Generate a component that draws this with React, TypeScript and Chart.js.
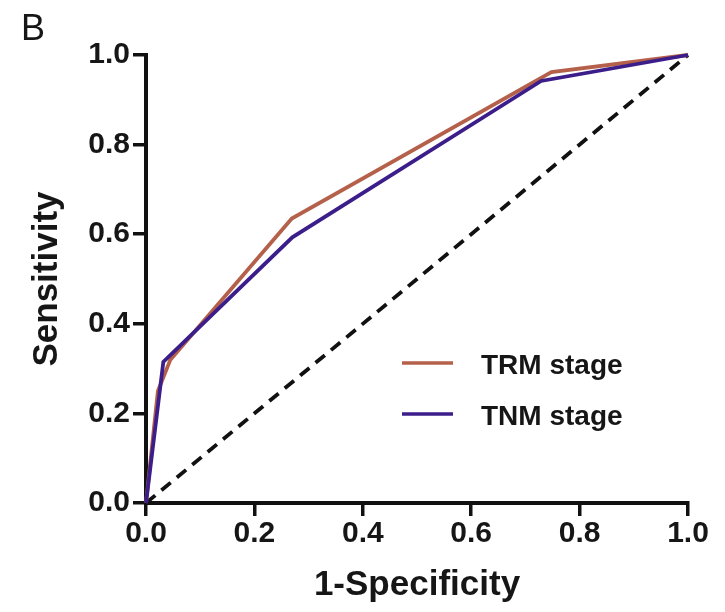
import React, { useEffect, useRef } from "react";
import { Chart, registerables } from "chart.js";

Chart.register(...registerables);

const panelLabel = "B";
const xTitle = "1-Specificity";
const yTitle = "Sensitivity";
const tickValues = [0, 0.2, 0.4, 0.6, 0.8, 1.0];

const trmLabel = "TRM stage";
const trmX = [0, 0.022, 0.045, 0.269, 0.748, 1.0];
const trmY = [0, 0.25, 0.32, 0.635, 0.962, 1.0];

const tnmLabel = "TNM stage";
const tnmX = [0, 0.032, 0.27, 0.729, 1.0];
const tnmY = [0, 0.315, 0.593, 0.942, 1.0];

const refX = [0, 1];
const refY = [0, 1];

const TRM_COLOR = "#B4604A";
const TNM_COLOR = "#3C1E8A";
const TEXT = "#161616";
const FONT = "'Liberation Sans', Arial, sans-serif";

const toPts = (xs: number[], ys: number[]) => xs.map((x, i) => ({ x, y: ys[i] }));

export default function App() {
  const ref = useRef<HTMLCanvasElement | null>(null);
  useEffect(() => {
    if (!ref.current) return;
    const overlay = {
      id: "overlay",
      afterDraw(chart: any) {
        const ctx = chart.ctx;
        ctx.save();
        ctx.fillStyle = TEXT;
        ctx.font = `36px ${FONT}`;
        ctx.textBaseline = "alphabetic";
        ctx.textAlign = "left";
        ctx.fillText(panelLabel, 21, 40);
        const items = [0, 1].map((i) => chart.data.datasets[i]);
        items.forEach((ds: any, i: number) => {
          const yPix = 363 + i * 51;
          ctx.strokeStyle = ds.borderColor;
          ctx.lineWidth = 3.5;
          ctx.beginPath();
          ctx.moveTo(402, yPix);
          ctx.lineTo(453, yPix);
          ctx.stroke();
          ctx.fillStyle = TEXT;
          ctx.font = `bold 28px ${FONT}`;
          ctx.textBaseline = "alphabetic";
          ctx.fillText(ds.label, 481, yPix + 11);
        });
        ctx.restore();
      },
    };
    const common = (title: string, isY: boolean) => ({
      type: "linear" as const,
      min: 0,
      max: 1,
      afterBuildTicks: (s: any) => {
        s.ticks = tickValues.map((v) => ({ value: v }));
      },
      afterFit: (s: any) => {
        if (isY) s.width = 146;
        else s.height = 109;
      },
      ticks: {
        color: TEXT,
        font: { family: FONT, size: 30, weight: "bold" as const },
        padding: isY ? 3 : 0,
        maxRotation: 0,
        autoSkip: false,
        callback: (v: any) => Number(v).toFixed(1),
      },
      grid: {
        drawOnChartArea: false,
        drawTicks: true,
        tickLength: 13,
        lineWidth: 3.5,
        color: "#111",
      },
      border: { display: true, color: "#111", width: 4 },
      title: {
        display: true,
        text: title,
        color: TEXT,
        font: { family: FONT, size: 35, weight: "bold" as const, lineHeight: isY ? 2.7 : 1.5 },
        padding: 0,
      },
    });
    const chart = new Chart(ref.current, {
      type: "scatter",
      data: {
        datasets: [
          {
            label: trmLabel,
            data: toPts(trmX, trmY),
            showLine: true,
            borderColor: TRM_COLOR,
            backgroundColor: TRM_COLOR,
            borderWidth: 3.8,
            pointRadius: 0,
            order: 2,
            clip: false,
          },
          {
            label: tnmLabel,
            data: toPts(tnmX, tnmY),
            showLine: true,
            borderColor: TNM_COLOR,
            backgroundColor: TNM_COLOR,
            borderWidth: 3.8,
            pointRadius: 0,
            order: 1,
            clip: false,
          },
          {
            label: "Reference",
            data: toPts(refX, refY),
            showLine: true,
            borderColor: "#111",
            borderWidth: 3.8,
            borderDash: [12, 8],
            pointRadius: 0,
            order: 3,
            clip: false,
          },
        ] as any,
      },
      options: {
        animation: false,
        responsive: false,
        layout: { padding: { top: 55, right: 37, left: 0, bottom: 0 } },
        plugins: { legend: { display: false }, tooltip: { enabled: false } },
        scales: {
          x: common(xTitle, false) as any,
          y: common(yTitle, true) as any,
        },
      },
      plugins: [overlay],
    });
    return () => chart.destroy();
  }, []);
  return (
    <div style={{ position: "fixed", left: 0, top: 0, width: 725, height: 612, background: "#fff" }}>
      <canvas ref={ref} width={725} height={612} style={{ width: 725, height: 612 }} />
    </div>
  );
}
